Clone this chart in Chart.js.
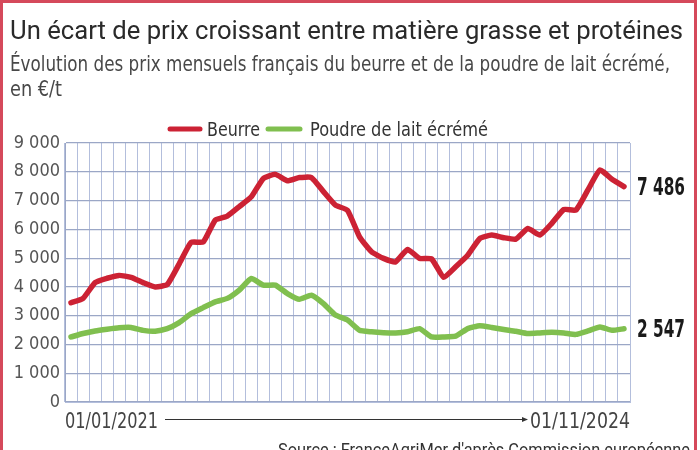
<!DOCTYPE html>
<html lang="fr">
<head>
<meta charset="utf-8">
<title>Beurre et poudre de lait écrémé</title>
<script src="https://cdn.jsdelivr.net/npm/chart.js@4.4.1/dist/chart.umd.min.js"></script>
<style>
  html, body { margin: 0; padding: 0; background: #fff; }
  #wrap { width: 700px; height: 450px; }
</style>
</head>
<body>
<div id="wrap"><canvas id="chart" width="700" height="450"></canvas></div>
<script>
// mois, de 01/2021 à 11/2024
const mois = [
  "01/2021", "02/2021", "03/2021", "04/2021", "05/2021", "06/2021", "07/2021", "08/2021", "09/2021", "10/2021", "11/2021", "12/2021",
  "01/2022", "02/2022", "03/2022", "04/2022", "05/2022", "06/2022", "07/2022", "08/2022", "09/2022", "10/2022", "11/2022", "12/2022",
  "01/2023", "02/2023", "03/2023", "04/2023", "05/2023", "06/2023", "07/2023", "08/2023", "09/2023", "10/2023", "11/2023", "12/2023",
  "01/2024", "02/2024", "03/2024", "04/2024", "05/2024", "06/2024", "07/2024", "08/2024", "09/2024", "10/2024", "11/2024"
];

// prix en €/t
const beurre = [
  3450, 3600, 4150, 4300, 4400, 4330, 4150, 4000, 4080, 4800, 5550, 5560,
  6320, 6460, 6790, 7130, 7770, 7910, 7690, 7800, 7800, 7310, 6840, 6660,
  5740, 5220, 4990, 4870, 5300, 4990, 4970, 4330, 4700, 5100, 5680, 5800,
  5710, 5660, 6030, 5800, 6210, 6690, 6670, 7370, 8060, 7740, 7486
];
const poudre = [
  2260, 2380, 2470, 2530, 2580, 2590, 2490, 2460, 2550, 2760, 3070, 3280,
  3480, 3600, 3890, 4290, 4060, 4060, 3770, 3570, 3710, 3420, 3020, 2850,
  2490, 2440, 2410, 2400, 2440, 2550, 2260, 2260, 2290, 2550, 2650, 2590,
  2520, 2460, 2380, 2400, 2420, 2400, 2350, 2470, 2610, 2490, 2547
];

const seriesNames = ["Beurre", "Poudre de lait écrémé"];
const yTicks = [0, 1000, 2000, 3000, 4000, 5000, 6000, 7000, 8000, 9000];

const titre = "Un écart de prix croissant entre matière grasse et protéines";
const sousTitre = ["Évolution des prix mensuels français du beurre et de la poudre de lait écrémé,", "en €/t"];
const debut = "01/01/2021";
const fin = "01/11/2024";
const source = "Source : FranceAgriMer d'après Commission européenne";

const RED = "#cc2234";
const GREEN = "#80bf4f";
const NARROW = "'Liberation Sans Narrow', 'DejaVu Sans Condensed', 'Roboto', sans-serif";

function fmt(v) {
    return String(Math.round(v)).replace(/\B(?=(\d{3})+(?!\d))/g, " ");
}

// draws text squeezed / stretched to a given width
function fitText(ctx, text, x, y, width, font, color, align) {
    ctx.save();
    ctx.font = font;
    ctx.fillStyle = color;
    ctx.textBaseline = "alphabetic";
    ctx.textAlign = "left";
    let w = ctx.measureText(text).width;
    let s = width / w;
    let x0 = align === "right" ? x - width : x;
    ctx.translate(x0, y);
    ctx.scale(s, 1);
    ctx.fillText(text, 0, 0);
    ctx.restore();
}

const decor = {
    id: "decor",
    beforeDraw(chart) {
        const ctx = chart.ctx;
        ctx.save();
        ctx.fillStyle = "#fff";
        ctx.fillRect(0, 0, chart.width, chart.height);
        ctx.restore();
    },
    afterDraw(chart) {
        const ctx = chart.ctx;
        const area = chart.chartArea;

        // cadre
        ctx.save();
        ctx.strokeStyle = "#d5495b";
        ctx.lineWidth = 3;
        ctx.strokeRect(1.5, 1.5, 694, 470);
        ctx.restore();

        fitText(ctx, titre, 10, 39, 673, "26px Roboto", "#2a2a2a");
        fitText(ctx, sousTitre[0], 10, 71, 660, "21px " + NARROW, "#484848");
        fitText(ctx, sousTitre[1], 10, 96, 52, "21px " + NARROW, "#484848");

        // légende
        const legend = [
            { x1: 170, x2: 200, tx: 207, tw: 53 },
            { x1: 268, x2: 300, tx: 310, tw: 178 }
        ];
        chart.data.datasets.forEach((ds, i) => {
            let l = legend[i];
            ctx.save();
            ctx.strokeStyle = ds.borderColor;
            ctx.lineWidth = 5;
            ctx.lineCap = "round";
            ctx.beginPath();
            ctx.moveTo(l.x1, 129);
            ctx.lineTo(l.x2, 129);
            ctx.stroke();
            ctx.restore();
            fitText(ctx, ds.label, l.tx, 136, l.tw, "19px " + NARROW, "#333");
        });

        // dernières valeurs
        chart.data.datasets.forEach((ds, i) => {
            let meta = chart.getDatasetMeta(i);
            let last = meta.data[meta.data.length - 1];
            let v = ds.data[ds.data.length - 1];
            fitText(ctx, fmt(v), 637, last.y + 8, 48, "bold 24px " + NARROW, "#1a1a1a");
        });

        // axe du temps
        fitText(ctx, debut, area.left, 428, 93, "22px " + NARROW, "#444");
        fitText(ctx, fin, area.right, 428, 100, "22px " + NARROW, "#444", "right");
        ctx.save();
        ctx.strokeStyle = "#333";
        ctx.fillStyle = "#333";
        ctx.lineWidth = 1;
        ctx.beginPath();
        ctx.moveTo(165, 419.5);
        ctx.lineTo(524, 419.5);
        ctx.stroke();
        ctx.beginPath();
        ctx.moveTo(528, 419.5);
        ctx.lineTo(522, 417);
        ctx.lineTo(522, 422);
        ctx.closePath();
        ctx.fill();
        ctx.restore();

        fitText(ctx, source, 278, 456, 412, "18px Roboto", "#333");
    }
};

let ctx = document.getElementById("chart");
let chart = new Chart(ctx, {
    type: "line",
    data: {
        labels: mois,
        datasets: [
            {
                label: seriesNames[0],
                data: beurre,
                borderColor: RED,
                backgroundColor: RED,
                borderWidth: 5.5,
                pointRadius: 0,
                tension: 0.15,
                borderJoinStyle: "round",
                borderCapStyle: "round"
            },
            {
                label: seriesNames[1],
                data: poudre,
                borderColor: GREEN,
                backgroundColor: GREEN,
                borderWidth: 5.5,
                pointRadius: 0,
                tension: 0.15,
                borderJoinStyle: "round",
                borderCapStyle: "round"
            }
        ]
    },
    options: {
        responsive: false,
        animation: false,
        devicePixelRatio: 1,
        layout: { padding: { left: 4, right: 70, top: 143, bottom: 48 } },
        plugins: {
            legend: { display: false },
            title: { display: false },
            tooltip: { enabled: false }
        },
        scales: {
            x: {
                type: "category",
                offset: true,
                grid: { offset: true, color: "#b3bedc", lineWidth: 1, drawTicks: false },
                border: { color: "#b3bedc" },
                ticks: { display: false },
                afterFit: (axis) => { axis.height = 0; }
            },
            y: {
                min: 0,
                max: 9000,
                afterBuildTicks: (axis) => { axis.ticks = yTicks.map(v => ({ value: v })); },
                grid: { color: "#9ba7c6", lineWidth: 1.2, drawTicks: false },
                border: { color: "#9ba7c6" },
                ticks: {
                    padding: 5,
                    color: "#555",
                    font: { family: NARROW, size: 18 },
                    callback: (v) => fmt(v)
                },
                afterFit: (axis) => { axis.width = 61; }
            }
        }
    },
    plugins: [decor]
});
</script>
</body>
</html>
